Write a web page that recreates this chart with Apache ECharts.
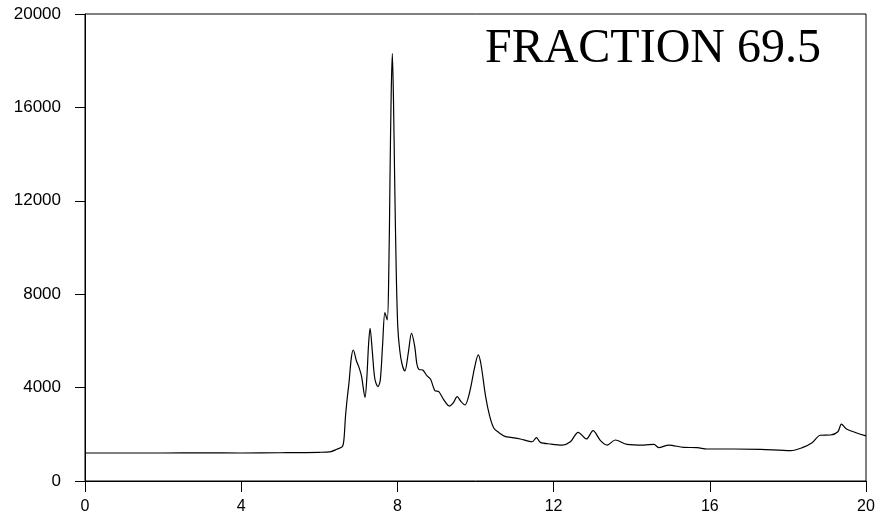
<!DOCTYPE html>
<html>
<head>
<meta charset="utf-8">
<script src="https://cdn.jsdelivr.net/npm/echarts@6/dist/echarts.min.js"></script>
<style>html,body{margin:0;padding:0;background:#fff;}#c{width:878px;height:523px;}</style>
</head>
<body>
<div id="c"></div>
<script>
const timeValues = [0,1,2,3,4,5,6,6.3,6.45,6.59,6.63,6.67,6.71,6.76,6.82,6.87,6.95,7.01,7.08,7.17,7.22,7.26,7.30,7.36,7.42,7.50,7.56,7.62,7.68,7.74,7.78,7.81,7.84,7.87,7.90,7.93,7.97,8.01,8.06,8.12,8.19,8.28,8.36,8.44,8.50,8.55,8.65,8.76,8.85,8.96,9.06,9.18,9.33,9.43,9.53,9.63,9.73,9.85,9.97,10.07,10.14,10.26,10.36,10.47,10.60,10.77,10.90,11.15,11.45,11.56,11.66,11.92,12.22,12.43,12.63,12.84,13.01,13.20,13.37,13.58,13.88,14.31,14.57,14.69,14.95,15.33,15.68,15.93,16.61,17.30,18.07,18.37,18.62,18.83,19.09,19.28,19.37,19.50,20.0];
const signalValues = [1200,1200,1200,1210,1200,1210,1230,1260,1360,1470,1760,2750,3470,4200,5270,5610,5150,4900,4500,3580,4500,5800,6540,5500,4400,4040,4300,5800,7210,6900,9000,12900,16500,18310,16300,12900,9000,6600,5600,5000,4710,5500,6320,5800,5000,4780,4750,4500,4360,3870,3825,3500,3210,3350,3610,3400,3255,3800,4800,5400,5000,3610,2800,2260,2070,1900,1870,1800,1680,1855,1655,1585,1540,1680,2085,1800,2155,1730,1540,1755,1570,1540,1570,1430,1540,1440,1430,1370,1370,1355,1300,1430,1640,1960,1970,2110,2440,2230,1930];
const xTicks = [0,4,8,12,16,20];
const yTicks = [0,4000,8000,12000,16000,20000];
const titleText = "FRACTION 69.5";

const chart = echarts.init(document.getElementById('c'));
chart.setOption({
  animation: false,
  backgroundColor: '#fff',
  title: {
    text: titleText, right: 52, top: 20,
    textStyle: {fontFamily: 'Liberation Serif', fontWeight: 'normal', fontSize: 48, color: '#000'}
  },
  grid: {left: 85, right: 12, top: 14, bottom: 42, show: true, borderColor: '#000', borderWidth: 1},
  xAxis: {
    type: 'value', min: 0, max: 20, interval: 4,
    axisLine: {show: true, lineStyle: {color: '#000', width: 1}},
    axisTick: {show: true, length: 11, lineStyle: {color: '#000'}},
    axisLabel: {margin: 18, fontFamily: 'Liberation Sans', fontSize: 16, color: '#000',
      formatter: v => xTicks.includes(v) ? String(v) : ''},
    splitLine: {show: false}
  },
  yAxis: {
    type: 'value', min: 0, max: 20000, interval: 4000,
    axisLine: {show: true, lineStyle: {color: '#000', width: 1}},
    axisTick: {show: true, length: 10, lineStyle: {color: '#000'}},
    axisLabel: {margin: 24, fontFamily: 'Liberation Sans', fontSize: 17, color: '#000',
      formatter: v => yTicks.includes(v) ? String(v) : ''},
    splitLine: {show: false}
  },
  series: [{
    type: 'line', data: timeValues.map((t, i) => [t, signalValues[i]]),
    showSymbol: false, smooth: 0.3, lineStyle: {color: '#000', width: 1.2}
  }]
});
</script>
</body>
</html>
